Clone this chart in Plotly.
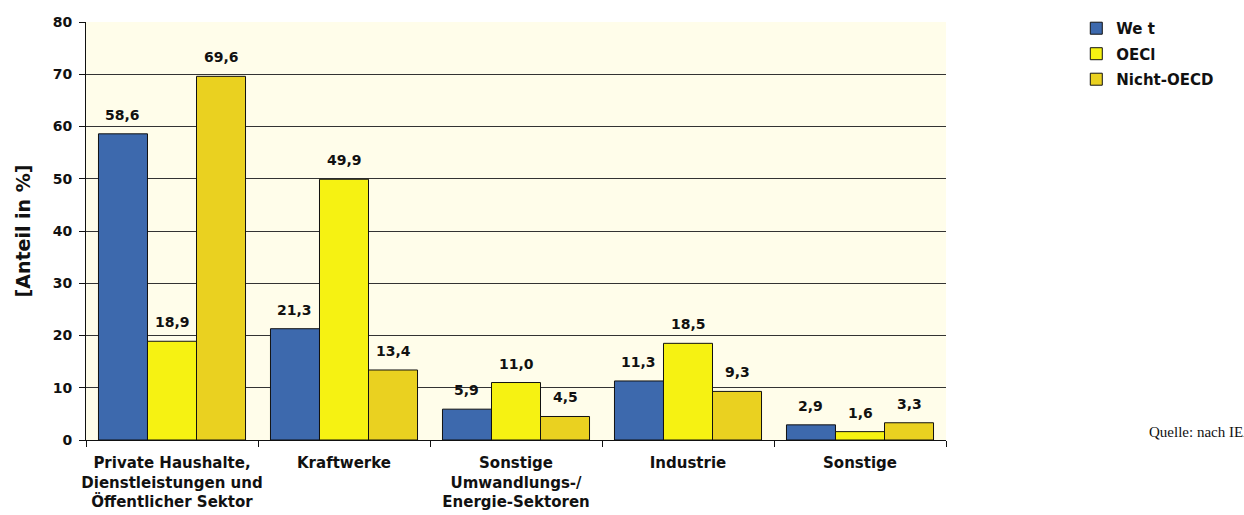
import plotly.graph_objects as go

# Sektoren und Anteile in Prozent
categories = [
    "Private Haushalte,<br>Dienstleistungen und<br>Öffentlicher Sektor",
    "Kraftwerke",
    "Sonstige<br>Umwandlungs-/<br>Energie-Sektoren",
    "Industrie",
    "Sonstige",
]
series_names = ["We t", "OECl", "Nicht-OECD"]
welt = [58.6, 21.3, 5.9, 11.3, 2.9]
oecd = [18.9, 49.9, 11.0, 18.5, 1.6]
nicht_oecd = [69.6, 13.4, 4.5, 9.3, 3.3]
y_ticks = [0, 10, 20, 30, 40, 50, 60, 70, 80]

colors = ["#3D69AD", "#F6F212", "#EAD120"]
font_main = "'DejaVu Sans', sans-serif"

# Pixelbreite eines Balkens (Kategoriebreite 860/5 px, Lücke 14,5 %)
cat_px = 860 / len(categories)
bar_px = cat_px * (1 - 0.145) / 3

fig = go.Figure()
annotations = []
for i, (name, vals, col) in enumerate(zip(series_names, [welt, oecd, nicht_oecd], colors)):
    fig.add_trace(go.Bar(
        x=categories, y=vals, name=name, legendgroup=name,
        marker=dict(color=col, line=dict(color="#111111", width=1)),
    ))
    # Wertbeschriftung über jedem Balken
    for cat, v in zip(categories, vals):
        annotations.append(dict(
            x=cat, y=v, xref="x", yref="y",
            text=f"{v:.1f}".replace(".", ","),
            showarrow=False, xanchor="center", yanchor="bottom",
            xshift=(i - 1) * bar_px, yshift=9,
            font=dict(family=font_main, size=14, color="#111111", weight="bold"),
        ))

annotations.append(dict(
    text="Quelle: nach IEA", xref="paper", yref="paper",
    x=(1147 - 86) / 860, y=0.02, xanchor="left", yanchor="middle",
    showarrow=False, font=dict(family="'Liberation Serif', 'DejaVu Serif', serif", size=15, color="#111111"),
))

fig.update_layout(
    width=1244, height=515,
    margin=dict(l=86, r=298, t=18, b=75),
    paper_bgcolor="white",
    plot_bgcolor="#FFFDEA",
    barmode="group",
    bargap=0.145,
    bargroupgap=0,
    separators=",.",
    font=dict(family=font_main, color="#111111"),
    showlegend=True,
    legend=dict(
        x=1.1515, y=1.024, xanchor="left", yanchor="top",
        traceorder="grouped", tracegroupgap=3,
        font=dict(size=15, family=font_main, weight="bold"),
        bgcolor="rgba(0,0,0,0)",
    ),
    yaxis=dict(
        range=[0, 80], tickvals=y_ticks, automargin=False,
        showgrid=True, gridcolor="#333333", gridwidth=1,
        showline=True, linecolor="#111111", linewidth=1,
        ticks="outside", ticklen=6, tickcolor="#111111",
        ticklabelstandoff=4,
        tickfont=dict(size=14, family=font_main, weight="bold"),
        title=dict(text="[Anteil in %]", font=dict(size=19, family=font_main, weight="bold"), standoff=17),
        zeroline=False,
    ),
    xaxis=dict(
        showline=True, linecolor="#111111", linewidth=1, automargin=False,
        ticks="outside", ticklen=6, tickcolor="#111111", tickson="boundaries",
        tickangle=0, ticklabelstandoff=9,
        tickfont=dict(size=15, family=font_main, weight="bold"),
        showgrid=False,
    ),
    annotations=annotations,
)

fig.write_html("out.html")
